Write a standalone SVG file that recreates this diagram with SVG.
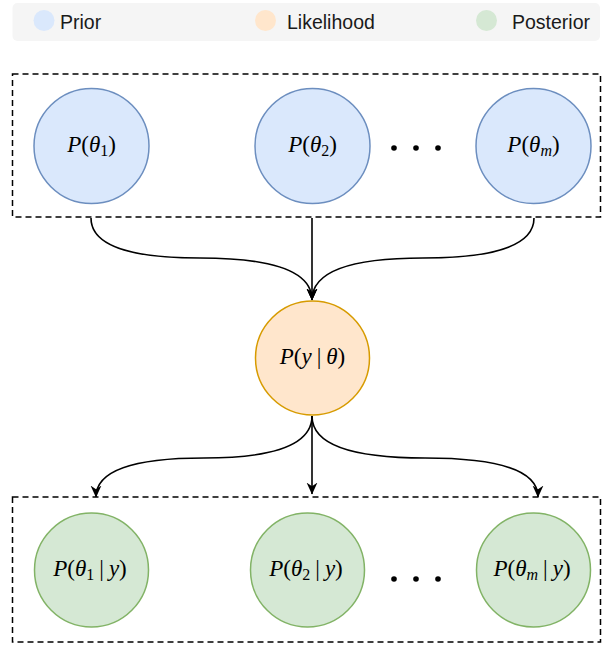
<svg xmlns="http://www.w3.org/2000/svg" width="603" height="645" viewBox="0 0 603 645">
<style>
.legend{font-family:"Liberation Sans",Arial,sans-serif;font-size:19.5px;fill:#1a1a1a}
.math{font-family:"Liberation Serif","Times New Roman",serif;font-size:23px;fill:#000;text-anchor:middle}
.it{font-style:italic}
.box{fill:none;stroke:#000;stroke-width:1.5;stroke-dasharray:6 4}
.prior{fill:#dae8fc;stroke:#6c8ebf;stroke-width:1.5}
.like{fill:#ffe6cc;stroke:#d79b00;stroke-width:1.5}
.post{fill:#d5e8d4;stroke:#82b366;stroke-width:1.5}
.edge{fill:none;stroke:#000;stroke-width:1.6}
</style>
<defs>
<marker id="arr" markerUnits="userSpaceOnUse" markerWidth="12" markerHeight="12" viewBox="0 0 10 10" refX="9.5" refY="5" orient="auto">
<path d="M0,0.5 L10,5 L0,9.5 L3,5 z" fill="#000"/>
</marker>
</defs>
<g id="legend">
<rect x="12.5" y="3" width="587.5" height="38" rx="5" fill="#f5f5f5"/>
<circle cx="44" cy="20.5" r="10.5" fill="#dae8fc"/>
<text class="legend" x="60" y="29">Prior</text>
<circle cx="265.5" cy="20.5" r="10.5" fill="#ffe6cc"/>
<text class="legend" x="287" y="29">Likelihood</text>
<circle cx="486.5" cy="20.5" r="10.5" fill="#d5e8d4"/>
<text class="legend" x="512" y="29">Posterior</text>
</g>
<g id="prior-group">
<rect class="box" x="12.5" y="74" width="588" height="143"/>
</g>
<g id="posterior-group">
<rect class="box" x="12.5" y="497" width="588" height="145"/>
</g>
<g id="connectors">
<path class="edge" d="M91,218 Q91,258 200,258 Q312,258 312,300" marker-end="url(#arr)"/>
<path class="edge" d="M312,218 L312,300" marker-end="url(#arr)"/>
<path class="edge" d="M534,218 Q534,258 423,258 Q312,258 312,300" marker-end="url(#arr)"/>
<path class="edge" d="M312,416 Q312,458 204,458 Q96,458 96,497" marker-end="url(#arr)"/>
<path class="edge" d="M312,416 L312,494" marker-end="url(#arr)"/>
<path class="edge" d="M312,416 Q312,458 425,458 Q538,458 538,497" marker-end="url(#arr)"/>
</g>
<g id="prior1">
<circle class="prior" cx="91.5" cy="146" r="57.5"/>
<text class="math" x="91.5" y="152"><tspan class="it">P</tspan>(<tspan class="it">θ</tspan><tspan font-size="16" dy="4">1</tspan><tspan dy="-4">)</tspan></text>
</g>
<g id="prior2">
<circle class="prior" cx="312.5" cy="146" r="57.5"/>
<text class="math" x="312.5" y="152"><tspan class="it">P</tspan>(<tspan class="it">θ</tspan><tspan font-size="16" dy="4">2</tspan><tspan dy="-4">)</tspan></text>
</g>
<g id="prior-dots">
<circle cx="394" cy="148" r="2.8"/>
<circle cx="416" cy="148" r="2.8"/>
<circle cx="438" cy="148" r="2.8"/>
</g>
<g id="priorm">
<circle class="prior" cx="533.5" cy="146" r="57.5"/>
<text class="math" x="533.5" y="152"><tspan class="it">P</tspan>(<tspan class="it">θ</tspan><tspan class="it" font-size="16" dy="4">m</tspan><tspan dy="-4">)</tspan></text>
</g>
<g id="likelihood">
<circle class="like" cx="312.5" cy="358" r="57"/>
<text class="math" x="312.5" y="364"><tspan class="it">P</tspan>(<tspan class="it">y</tspan><tspan dx="5">|</tspan><tspan class="it" dx="5">θ</tspan>)</text>
</g>
<g id="post1">
<circle class="post" cx="91.5" cy="570" r="57"/>
<text class="math" x="90" y="576"><tspan class="it">P</tspan>(<tspan class="it">θ</tspan><tspan font-size="16" dy="4">1</tspan><tspan dy="-4" dx="5">|</tspan><tspan class="it" dx="5">y</tspan>)</text>
</g>
<g id="post2">
<circle class="post" cx="307.5" cy="570" r="57"/>
<text class="math" x="306" y="576"><tspan class="it">P</tspan>(<tspan class="it">θ</tspan><tspan font-size="16" dy="4">2</tspan><tspan dy="-4" dx="5">|</tspan><tspan class="it" dx="5">y</tspan>)</text>
</g>
<g id="post-dots">
<circle cx="394" cy="579" r="2.8"/>
<circle cx="416" cy="579" r="2.8"/>
<circle cx="438" cy="579" r="2.8"/>
</g>
<g id="postm">
<circle class="post" cx="533.5" cy="570" r="57"/>
<text class="math" x="532" y="576"><tspan class="it">P</tspan>(<tspan class="it">θ</tspan><tspan class="it" font-size="16" dy="4">m</tspan><tspan dy="-4" dx="5">|</tspan><tspan class="it" dx="5">y</tspan>)</text>
</g>
</svg>
